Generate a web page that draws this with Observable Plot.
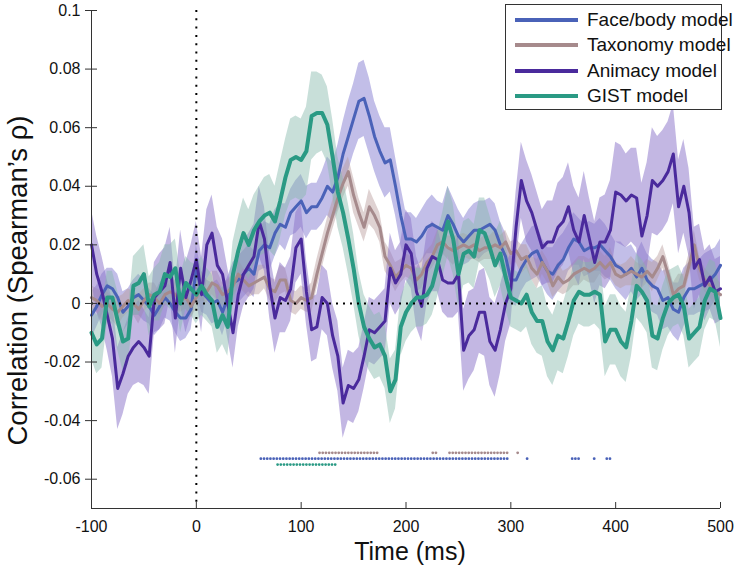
<!DOCTYPE html>
<html><head><meta charset="utf-8">
<script src="https://cdn.jsdelivr.net/npm/d3@7"></script>
<script src="https://cdn.jsdelivr.net/npm/@observablehq/plot@0.6"></script>
<style>
body{margin:0;background:#fff;}
#wrap{position:relative;width:750px;height:568px;font-family:"Liberation Sans",Arial,Helvetica,sans-serif;}
#legend{position:absolute;left:505px;top:4px;width:217px;height:106px;border:1px solid #333;background:#fff;box-sizing:border-box;}
.row{position:absolute;left:0;height:26px;width:100%;}
.sw{position:absolute;left:9px;width:63px;height:4px;top:11px;}
.lab{position:absolute;left:81px;top:0;font-size:19px;line-height:26px;color:#111;white-space:nowrap;}
</style></head>
<body><div id="wrap"></div>
<script>
const times = [-100,-95,-90,-85,-80,-75,-70,-65,-60,-55,-50,-45,-40,-35,-30,-25,-20,-15,-10,-5,0,5,10,15,20,25,30,35,40,45,
50,55,60,65,70,75,80,85,90,95,100,105,110,115,120,125,130,135,140,145,150,155,160,165,170,175,180,185,190,195,200,
205,210,215,220,225,230,235,240,245,250,255,260,265,270,275,280,285,290,295,300,305,310,315,320,325,330,335,340,345,350,
355,360,365,370,375,380,385,390,395,400,405,410,415,420,425,430,435,440,445,450,455,460,465,470,475,480,485,490,495,500];

const models = ["Face/body model","Taxonomy model","Animacy model","GIST model"];
const lineColors = ["#4a62b8","#a68a8c","#4a2a9c","#2a9a84"];
const bandColors = ["#7f78cf","#b99c9c","#8c74c9","#86b9aa"];
const bandOpacity = [0.48,0.45,0.52,0.45];
const lineWidths = [3,3,3,4];

const faceBody = [-0.004,-0.001,0.003,0.006,0.005,0.002,-0.003,-0.001,0.002,0.003,0.001,-0.001,-0.004,-0.001,0.002,0.000,-0.003,-0.005,-0.005,-0.002,0.012,0.004,0.002,0.000,0.001,-0.003,0.002,0.007,0.008,0.010,
0.012,0.010,0.018,0.020,0.019,0.024,0.027,0.026,0.031,0.033,0.035,0.031,0.033,0.033,0.036,0.040,0.038,0.043,0.051,0.057,0.063,0.069,0.070,0.064,0.057,0.052,0.048,0.049,0.040,0.030,0.022,
0.022,0.021,0.023,0.026,0.027,0.026,0.025,0.030,0.027,0.023,0.021,0.023,0.025,0.025,0.026,0.027,0.025,0.020,0.016,0.008,0.008,0.012,0.015,0.017,0.018,0.014,0.011,0.010,0.013,0.015,
0.019,0.022,0.021,0.018,0.019,0.019,0.020,0.018,0.016,0.013,0.012,0.010,0.012,0.009,0.012,0.008,0.006,0.005,0.001,0.002,-0.002,-0.003,0.002,0.005,0.005,0.006,0.007,0.008,0.010,0.013];
const faceBodySE = [0.008,0.007,0.007,0.006,0.007,0.008,0.007,0.006,0.006,0.007,0.007,0.006,0.007,0.008,0.007,0.006,0.007,0.008,0.007,0.007,0.008,0.007,0.006,0.007,0.007,0.008,0.007,0.007,0.008,0.008,
0.008,0.008,0.007,0.008,0.008,0.008,0.007,0.008,0.008,0.009,0.009,0.009,0.008,0.008,0.009,0.010,0.010,0.011,0.011,0.012,0.012,0.013,0.013,0.013,0.012,0.012,0.012,0.011,0.010,0.010,0.009,
0.009,0.008,0.009,0.009,0.010,0.009,0.009,0.010,0.009,0.009,0.008,0.009,0.009,0.010,0.009,0.009,0.009,0.008,0.008,0.008,0.009,0.008,0.008,0.009,0.009,0.008,0.008,0.009,0.009,0.009,
0.008,0.009,0.008,0.009,0.009,0.008,0.009,0.009,0.008,0.008,0.009,0.009,0.008,0.008,0.009,0.009,0.009,0.009,0.010,0.010,0.009,0.010,0.010,0.009,0.009,0.009,0.010,0.010,0.009,0.009];

const taxonomy = [0.002,0.001,-0.001,0.000,-0.002,-0.003,-0.001,0.001,0.000,-0.002,0.001,0.003,0.002,0.000,0.003,0.004,0.003,0.001,0.002,-0.001,0.002,0.006,0.004,0.007,0.006,0.003,0.004,0.006,0.010,0.008,
0.006,0.007,0.008,0.009,0.005,0.004,0.008,0.008,0.001,0.000,0.002,0.001,0.002,0.010,0.017,0.024,0.030,0.036,0.041,0.045,0.037,0.031,0.026,0.033,0.030,0.026,0.016,0.013,0.009,0.011,0.013,
0.012,0.008,0.010,0.014,0.016,0.020,0.021,0.019,0.018,0.019,0.020,0.019,0.020,0.018,0.019,0.019,0.020,0.019,0.021,0.017,0.018,0.015,0.016,0.012,0.010,0.014,0.011,0.006,0.009,0.007,
0.008,0.010,0.011,0.012,0.011,0.012,0.014,0.012,0.014,0.010,0.009,0.010,0.011,0.010,0.009,0.011,0.009,0.012,0.016,0.010,0.003,0.005,0.006,0.013,0.020,0.012,0.008,0.006,0.004,0.003];
const taxonomySE = [0.004,0.004,0.005,0.004,0.004,0.005,0.004,0.004,0.004,0.005,0.004,0.004,0.005,0.004,0.004,0.004,0.005,0.004,0.004,0.004,0.004,0.005,0.004,0.004,0.005,0.004,0.004,0.004,0.005,0.004,
0.004,0.004,0.005,0.004,0.004,0.004,0.005,0.004,0.004,0.004,0.004,0.004,0.005,0.005,0.005,0.005,0.005,0.005,0.005,0.005,0.006,0.005,0.005,0.006,0.005,0.005,0.005,0.005,0.005,0.004,0.004,
0.004,0.004,0.005,0.004,0.004,0.005,0.004,0.004,0.005,0.004,0.004,0.004,0.005,0.004,0.004,0.004,0.005,0.004,0.004,0.004,0.004,0.005,0.004,0.004,0.005,0.004,0.004,0.004,0.005,0.004,
0.004,0.004,0.005,0.004,0.004,0.005,0.004,0.004,0.005,0.004,0.004,0.004,0.005,0.004,0.004,0.004,0.005,0.004,0.004,0.004,0.004,0.005,0.004,0.004,0.005,0.004,0.004,0.004,0.005,0.004];

const animacy = [0.020,0.010,0.004,-0.004,-0.012,-0.029,-0.024,-0.018,-0.015,-0.013,-0.015,-0.018,0.002,0.004,0.006,0.014,-0.005,0.012,0.002,0.008,0.015,0.003,0.020,0.024,0.013,0.010,0.000,-0.010,0.003,0.010,
0.013,0.016,0.028,0.022,0.006,-0.005,0.002,0.001,0.005,0.019,0.022,0.004,-0.009,-0.008,0.002,0.000,-0.011,-0.018,-0.034,-0.028,-0.029,-0.026,-0.018,-0.009,-0.010,-0.008,-0.006,0.012,0.007,0.010,0.020,
0.017,0.004,-0.001,0.012,0.016,0.015,0.008,0.007,0.007,0.010,-0.016,-0.011,-0.009,-0.003,-0.003,-0.013,-0.016,-0.009,0.000,0.005,0.026,0.042,0.035,0.031,0.025,0.019,0.021,0.021,0.026,0.028,
0.033,0.025,0.021,0.030,0.022,0.014,0.021,0.021,0.025,0.038,0.037,0.035,0.037,0.036,0.023,0.030,0.042,0.040,0.042,0.045,0.051,0.033,0.040,0.031,0.012,0.015,0.006,0.009,0.004,0.005];
const animacySE = [0.012,0.013,0.012,0.012,0.013,0.014,0.014,0.013,0.013,0.014,0.013,0.013,0.012,0.013,0.013,0.012,0.012,0.013,0.012,0.012,0.013,0.013,0.012,0.013,0.013,0.012,0.012,0.012,0.011,0.011,
0.011,0.011,0.012,0.011,0.011,0.012,0.012,0.011,0.011,0.012,0.012,0.011,0.011,0.011,0.011,0.011,0.011,0.012,0.012,0.012,0.012,0.011,0.011,0.011,0.011,0.011,0.011,0.012,0.011,0.011,0.012,
0.012,0.012,0.012,0.012,0.012,0.011,0.011,0.012,0.012,0.013,0.014,0.015,0.014,0.014,0.015,0.015,0.016,0.015,0.013,0.012,0.012,0.013,0.014,0.013,0.013,0.013,0.014,0.014,0.015,0.015,
0.015,0.015,0.015,0.015,0.014,0.014,0.015,0.016,0.017,0.017,0.017,0.016,0.016,0.017,0.018,0.018,0.018,0.017,0.017,0.017,0.017,0.016,0.016,0.015,0.014,0.012,0.012,0.011,0.011,0.011];

const gist = [-0.010,-0.014,-0.012,0.002,0.002,-0.006,-0.013,-0.012,0.006,0.007,0.010,-0.001,0.003,0.004,0.010,0.009,0.012,0.000,0.007,0.005,0.003,0.006,0.003,0.001,-0.008,-0.004,-0.008,0.010,0.018,0.024,
0.020,0.025,0.028,0.030,0.031,0.028,0.035,0.043,0.049,0.050,0.049,0.052,0.064,0.065,0.065,0.061,0.050,0.038,0.031,0.022,0.012,0.000,-0.008,-0.012,-0.015,-0.014,-0.018,-0.030,-0.026,-0.008,-0.003,
0.000,0.002,0.002,0.003,0.006,0.013,0.020,0.028,0.022,0.010,0.017,0.018,0.016,0.025,0.024,0.019,0.013,0.017,0.009,0.002,0.001,0.000,0.003,-0.003,-0.006,-0.006,-0.013,-0.016,-0.011,-0.012,
-0.006,0.001,0.004,0.003,0.003,0.004,0.003,-0.013,-0.009,-0.009,-0.013,-0.015,-0.006,0.006,0.004,0.001,-0.011,-0.012,-0.005,0.000,0.002,0.003,-0.001,-0.012,-0.010,-0.008,0.001,0.005,0.004,-0.005];
const gistSE = [0.009,0.010,0.010,0.009,0.009,0.010,0.010,0.009,0.010,0.011,0.010,0.010,0.009,0.010,0.010,0.011,0.010,0.010,0.009,0.009,0.010,0.010,0.009,0.009,0.009,0.010,0.010,0.011,0.011,0.012,
0.012,0.012,0.012,0.013,0.013,0.012,0.013,0.013,0.014,0.014,0.014,0.015,0.015,0.014,0.013,0.013,0.013,0.012,0.012,0.012,0.012,0.011,0.011,0.011,0.011,0.011,0.011,0.011,0.010,0.010,0.010,
0.010,0.010,0.010,0.010,0.010,0.011,0.011,0.012,0.012,0.011,0.011,0.011,0.011,0.011,0.012,0.011,0.011,0.011,0.011,0.010,0.010,0.010,0.011,0.011,0.011,0.012,0.012,0.012,0.012,0.012,
0.012,0.012,0.011,0.011,0.011,0.011,0.012,0.012,0.012,0.012,0.012,0.012,0.012,0.011,0.011,0.011,0.011,0.011,0.011,0.011,0.010,0.010,0.010,0.010,0.010,0.010,0.010,0.010,0.010,0.010];

// significant time windows (ms) per model, and the row height of each dotted row
const sigFaceBody = [[62,300],[316,316],[359,368],[380,380],[392,396]];
const sigTaxonomy = [[118,175],[226,232],[242,299],[307,307]];
const sigGist = [[78,135]];
const sigRows = [-0.053, -0.051, -0.055];

const xTicks = [-100,0,100,200,300,400,500];
const xTickLabels = ["-100","0","100","200","300","400","500"];
const yTicks = [0.1,0.08,0.06,0.04,0.02,0,-0.02,-0.04,-0.06];
const yTickLabels = ["0.1","0.08","0.06","0.04","0.02","0","-0.02","-0.04","-0.06"];
const xLabel = "Time (ms)";
const yLabel = "Correlation (Spearman\u2019s \u03c1)";

const series = [faceBody, taxonomy, animacy, gist];
const seriesSE = [faceBodySE, taxonomySE, animacySE, gistSE];
const tables = series.map((vals, k) => times.map((t, i) => ({t, v: vals[i], lo: vals[i] - seriesSE[k][i], hi: vals[i] + seriesSE[k][i]})));

const sigSets = [[sigFaceBody, 0, 0], [sigTaxonomy, 1, 1], [sigGist, 3, 2]];
const sigData = [];
sigSets.forEach(([s, k, r]) => s.forEach(([a, b]) => sigData.push({x1: a, x2: b, y: sigRows[r], c: lineColors[k]})));

const xFmt = new Map(xTicks.map((d, i) => [d, xTickLabels[i]]));
const yFmt = new Map(yTicks.map((d, i) => [d, yTickLabels[i]]));
const font = '"Liberation Sans", Arial, Helvetica, sans-serif';

const marks = [];
tables.forEach((tb, k) => marks.push(Plot.areaY(tb, {x: "t", y1: "lo", y2: "hi", fill: bandColors[k], fillOpacity: bandOpacity[k]})));
tables.forEach((tb, k) => marks.push(Plot.lineY(tb, {x: "t", y: "v", stroke: lineColors[k], strokeWidth: lineWidths[k], strokeLinejoin: "round"})));
marks.push(
  Plot.ruleX([0], {stroke: "#000", strokeWidth: 2, strokeDasharray: "2 6.3"}),
  Plot.ruleY([0], {stroke: "#000", strokeWidth: 2, strokeDasharray: "2 5"}),
  Plot.ruleY(sigData, {x1: "x1", x2: "x2", y: "y", stroke: "c", strokeWidth: 2.8, strokeLinecap: "round", strokeDasharray: "0 3.2"}),
  Plot.ruleX([xTicks[0]], {stroke: "#333", strokeWidth: 1}),
  Plot.ruleY([-0.07], {stroke: "#333", strokeWidth: 1}),
  Plot.axisY(yTicks, {tickSize: 6, tickPadding: 5, tickFormat: d => yFmt.get(d), label: null, fontSize: 16, stroke: "#333"}),
  Plot.axisY(yTicks, {tickSize: -6, text: null, label: null, stroke: "#333"}),
  Plot.axisX(xTicks, {tickSize: -6, tickPadding: 18, tickFormat: d => xFmt.get(d), label: null, fontSize: 16, stroke: "#333"}),
  Plot.text([xLabel], {frameAnchor: "bottom", textAnchor: "middle", dx: 4, dy: 51, fontSize: 25, fill: "#111"}),
  Plot.text([yLabel], {frameAnchor: "left", textAnchor: "middle", rotate: -90, dx: -73, dy: 21, fontSize: 27.5, fill: "#111"})
);

const chart = Plot.plot({
  width: 750, height: 568,
  marginLeft: 91, marginRight: 30, marginTop: 10, marginBottom: 60,
  style: {fontFamily: font, fontSize: "16px", color: "#111", background: "#fff"},
  x: {domain: [-100, 500], label: null},
  y: {domain: [-0.07, 0.1], label: null},
  marks
});

const wrap = document.getElementById("wrap");
wrap.appendChild(chart);
const legend = document.createElement("div");
legend.id = "legend";
models.forEach((m, k) => {
  const row = document.createElement("div");
  row.className = "row";
  row.style.top = (2 + k * 25.3) + "px";
  const sw = document.createElement("div");
  sw.className = "sw";
  sw.style.background = lineColors[k];
  const lab = document.createElement("div");
  lab.className = "lab";
  lab.textContent = m;
  row.appendChild(sw); row.appendChild(lab);
  legend.appendChild(row);
});
wrap.appendChild(legend);
</script>
</body></html>
